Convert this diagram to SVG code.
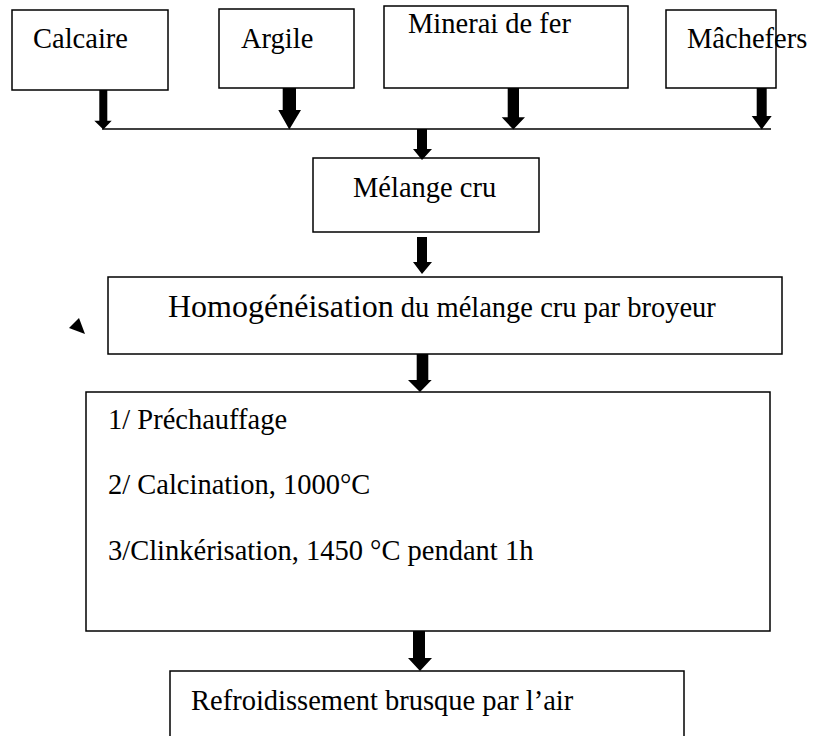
<svg xmlns="http://www.w3.org/2000/svg" width="834" height="736" viewBox="0 0 834 736">
<style>
.box{fill:#fff;stroke:#000;stroke-width:1.5}
.t{font-family:'Liberation Serif','DejaVu Serif',serif;font-size:28.5px;fill:#000}
.big{font-size:32px}
.arr{fill:#000;stroke:none}
.ln{stroke:#000;stroke-width:1.5;fill:none}
</style>
<rect width="834" height="736" fill="#fff"/>
<g id="calcaire"><rect class="box" x="12" y="10" width="156" height="80"/><text class="t" x="33" y="48">Calcaire</text></g>
<g id="argile"><rect class="box" x="219" y="9" width="135" height="79"/><text class="t" x="241" y="48">Argile</text></g>
<g id="minerai"><rect class="box" x="384" y="6" width="244" height="82"/><text class="t" x="408" y="33">Minerai de fer</text></g>
<g id="machefers"><rect class="box" x="666" y="10" width="110" height="78"/><text class="t" x="687" y="48">Mâchefers</text></g>
<g id="melange"><rect class="box" x="313" y="158" width="226" height="74"/><text class="t" x="353" y="197">Mélange cru</text></g>
<g id="homog"><rect class="box" x="108" y="277" width="674" height="77"/><text class="t" x="168" y="317"><tspan class="big">Homogénéisation</tspan> du mélange cru par broyeur</text></g>
<g id="cuisson"><rect class="box" x="86" y="392" width="684" height="239"/>
<text class="t" x="108" y="429">1/ Préchauffage</text>
<text class="t" x="108" y="494">2/ Calcination, 1000°C</text>
<text class="t" x="108" y="560">3/Clinkérisation, 1450 °C pendant 1h</text></g>
<g id="refroid"><rect class="box" x="170" y="671" width="514" height="80"/><text class="t" x="191" y="710">Refroidissement brusque par l’air</text></g>
<g id="marker"><polygon class="arr" points="79,318 69,328 85,334"/></g>
<g id="connectors">
<line class="ln" x1="102" y1="129" x2="771" y2="129"/>
<polygon class="arr" points="99.3,90 107.3,90 107.3,120.7 111.7,120.7 103.3,129.5 94.3,120.7 99.3,120.7"/>
<polygon class="arr" points="282.7,88 296,88 296,110 301,110 289.3,129.5 278.3,110 282.7,110"/>
<polygon class="arr" points="507.7,88 519,88 519,117.3 525,117.3 513.3,129.5 501.7,117.3 507.7,117.3"/>
<polygon class="arr" points="756.7,88 766.7,88 766.7,116 771.7,116 761.7,129.5 751.7,116 756.7,116"/>
<polygon class="arr" points="417,129 427,129 427,149 432,149 422,160 413,149 417,149"/>
<polygon class="arr" points="417,237 427,237 427,262 432,262 422,274 413,262 417,262"/>
<polygon class="arr" points="416.7,354 428.3,354 428.3,380 431.7,380 420,392 408,380 416.7,380"/>
<polygon class="arr" points="413,631 425,631 425,658 432,658 420,671 408,658 413,658"/>
</g>
</svg>
